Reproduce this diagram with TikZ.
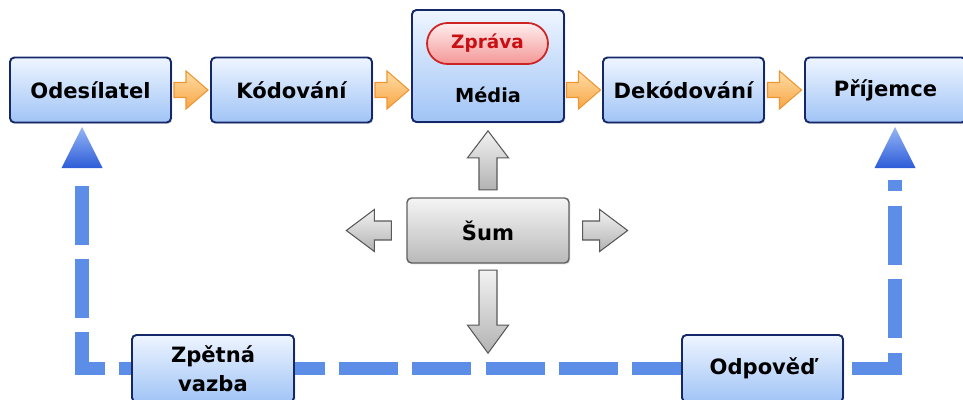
\documentclass[tikz,border=0pt]{standalone}
\usepackage{fontspec}
\setmainfont{DejaVu Sans}
\usetikzlibrary{calc,shadows,backgrounds}

\definecolor{boxline}{RGB}{20,40,105}
\definecolor{boxtop}{RGB}{238,245,255}
\definecolor{boxbot}{RGB}{160,196,246}
\definecolor{fbblue}{RGB}{92,142,232}
\definecolor{tritop}{RGB}{150,182,246}
\definecolor{tribot}{RGB}{45,92,215}
\definecolor{orline}{RGB}{238,150,50}
\definecolor{ortop}{RGB}{255,222,165}
\definecolor{orbot}{RGB}{247,165,70}
\definecolor{pilltop}{RGB}{255,238,238}
\definecolor{pillbot}{RGB}{244,150,150}
\definecolor{pillline}{RGB}{205,35,35}
\definecolor{pilltext}{RGB}{200,15,20}

\tikzset{
  box/.style = {draw=boxline, line width=1.1pt, rounded corners=2.5pt,
    top color=boxtop, bottom color=boxbot,
    minimum width=3.22cm, minimum height=1.3cm, align=center,
    font=\fontsize{12}{16.5}\selectfont\bfseries,
    drop shadow={opacity=0.25, shadow xshift=0.8pt, shadow yshift=-0.8pt}},
  noisebox/.style = {box, draw=gray!75!black, line width=0.8pt,
    top color=gray!8, bottom color=gray!55},
  pill/.style = {draw=pillline, line width=1pt, rounded corners=0.41cm,
    top color=pilltop, bottom color=pillbot, text=pilltext,
    minimum width=2.42cm, minimum height=0.82cm,
    font=\fontsize{10.5}{12}\selectfont\bfseries},
  orarrow/.style = {draw=orline, line width=0.6pt, top color=ortop, bottom color=orbot},
  grayarrow/.style = {draw=gray!70!black, line width=0.6pt, top color=gray!10, bottom color=gray!60},
  tri/.style = {top color=tritop, bottom color=tribot},
  feedback/.style = {draw=fbblue, line width=7.8pt,
    dash pattern=on 33.45pt off 8.27pt, dash phase=26.98pt},
  pics/blockarrow/.style n args={4}{code={
    \path[pic actions] (-#1/2-#2/2,-#3) -- (#1/2-#2/2,-#3) -- (#1/2-#2/2,-#4)
      -- (#1/2+#2/2,0) -- (#1/2-#2/2,#4) -- (#1/2-#2/2,#3) -- (-#1/2-#2/2,#3) -- cycle;
  }}
}

\begin{document}
\begin{tikzpicture}[x=0.02cm, y=-0.02cm]
\useasboundingbox (0,0) rectangle (963,399);

% top row
\node[box] (odes) at (90.5,90) {Odesílatel};
\node[box] (kod) at (291.5,90) {Kódování};
\node[box, minimum width=3.04cm, minimum height=2.24cm] (media) at (488,66) {};
\node[pill] (zprava) at (487.5,43.5) {Zpráva};
\node[font=\fontsize{11}{13}\selectfont\bfseries] (medialbl) at (488,95) {Média};
\node[box] (dek) at (683.5,90) {Dekódování};
\node[box] (prij) at (885.5,90) {Příjemce};

\foreach \a/\b in {odes/kod, kod/media, media/dek, dek/prij}
  \pic[orarrow] at ($(\a.east |- odes)!.5!(\b.west |- odes)$) {blockarrow={12}{22}{7.5}{19}};

% noise
\node[noisebox, minimum width=3.24cm] (sum) at (488,230.5) {Šum};
\pic[grayarrow, rotate=90] at ($(sum.north)+(0,-37)$) {blockarrow={32}{27}{9}{20.5}};
\pic[grayarrow, rotate=-90] at ($(sum.south)+(0,48)$) {blockarrow={55}{28}{9}{20.5}};
\pic[grayarrow, rotate=180] at ($(sum.west)+(-37.5,0)$) {blockarrow={17}{28}{9.5}{21}};
\pic[grayarrow] at ($(sum.east)+(35.5,0)$) {blockarrow={17}{28}{9.5}{21}};

% feedback loop
\node[box, minimum width=3.24cm, minimum height=1.34cm] (zpet) at (213,368.5) {Zpětná\\vazba};
\node[box, minimum height=1.34cm] (odp) at (762.5,368.5) {Odpověď};
\coordinate (fbR) at (895,180);
\coordinate (fbL) at (82,180);
\begin{pgfonlayer}{background}
\draw[feedback] (fbR) -- (fbR |- odp) -- (fbL |- zpet) -- (fbL);
\end{pgfonlayer}
\path[tri] ($(fbR)+(-20.5,-12)$) -- ($(fbR)+(0,-53)$) -- ($(fbR)+(20.5,-12)$) -- cycle;
\path[tri] ($(fbL)+(-20.5,-12)$) -- ($(fbL)+(0,-53)$) -- ($(fbL)+(20.5,-12)$) -- cycle;

\end{tikzpicture}
\end{document}
